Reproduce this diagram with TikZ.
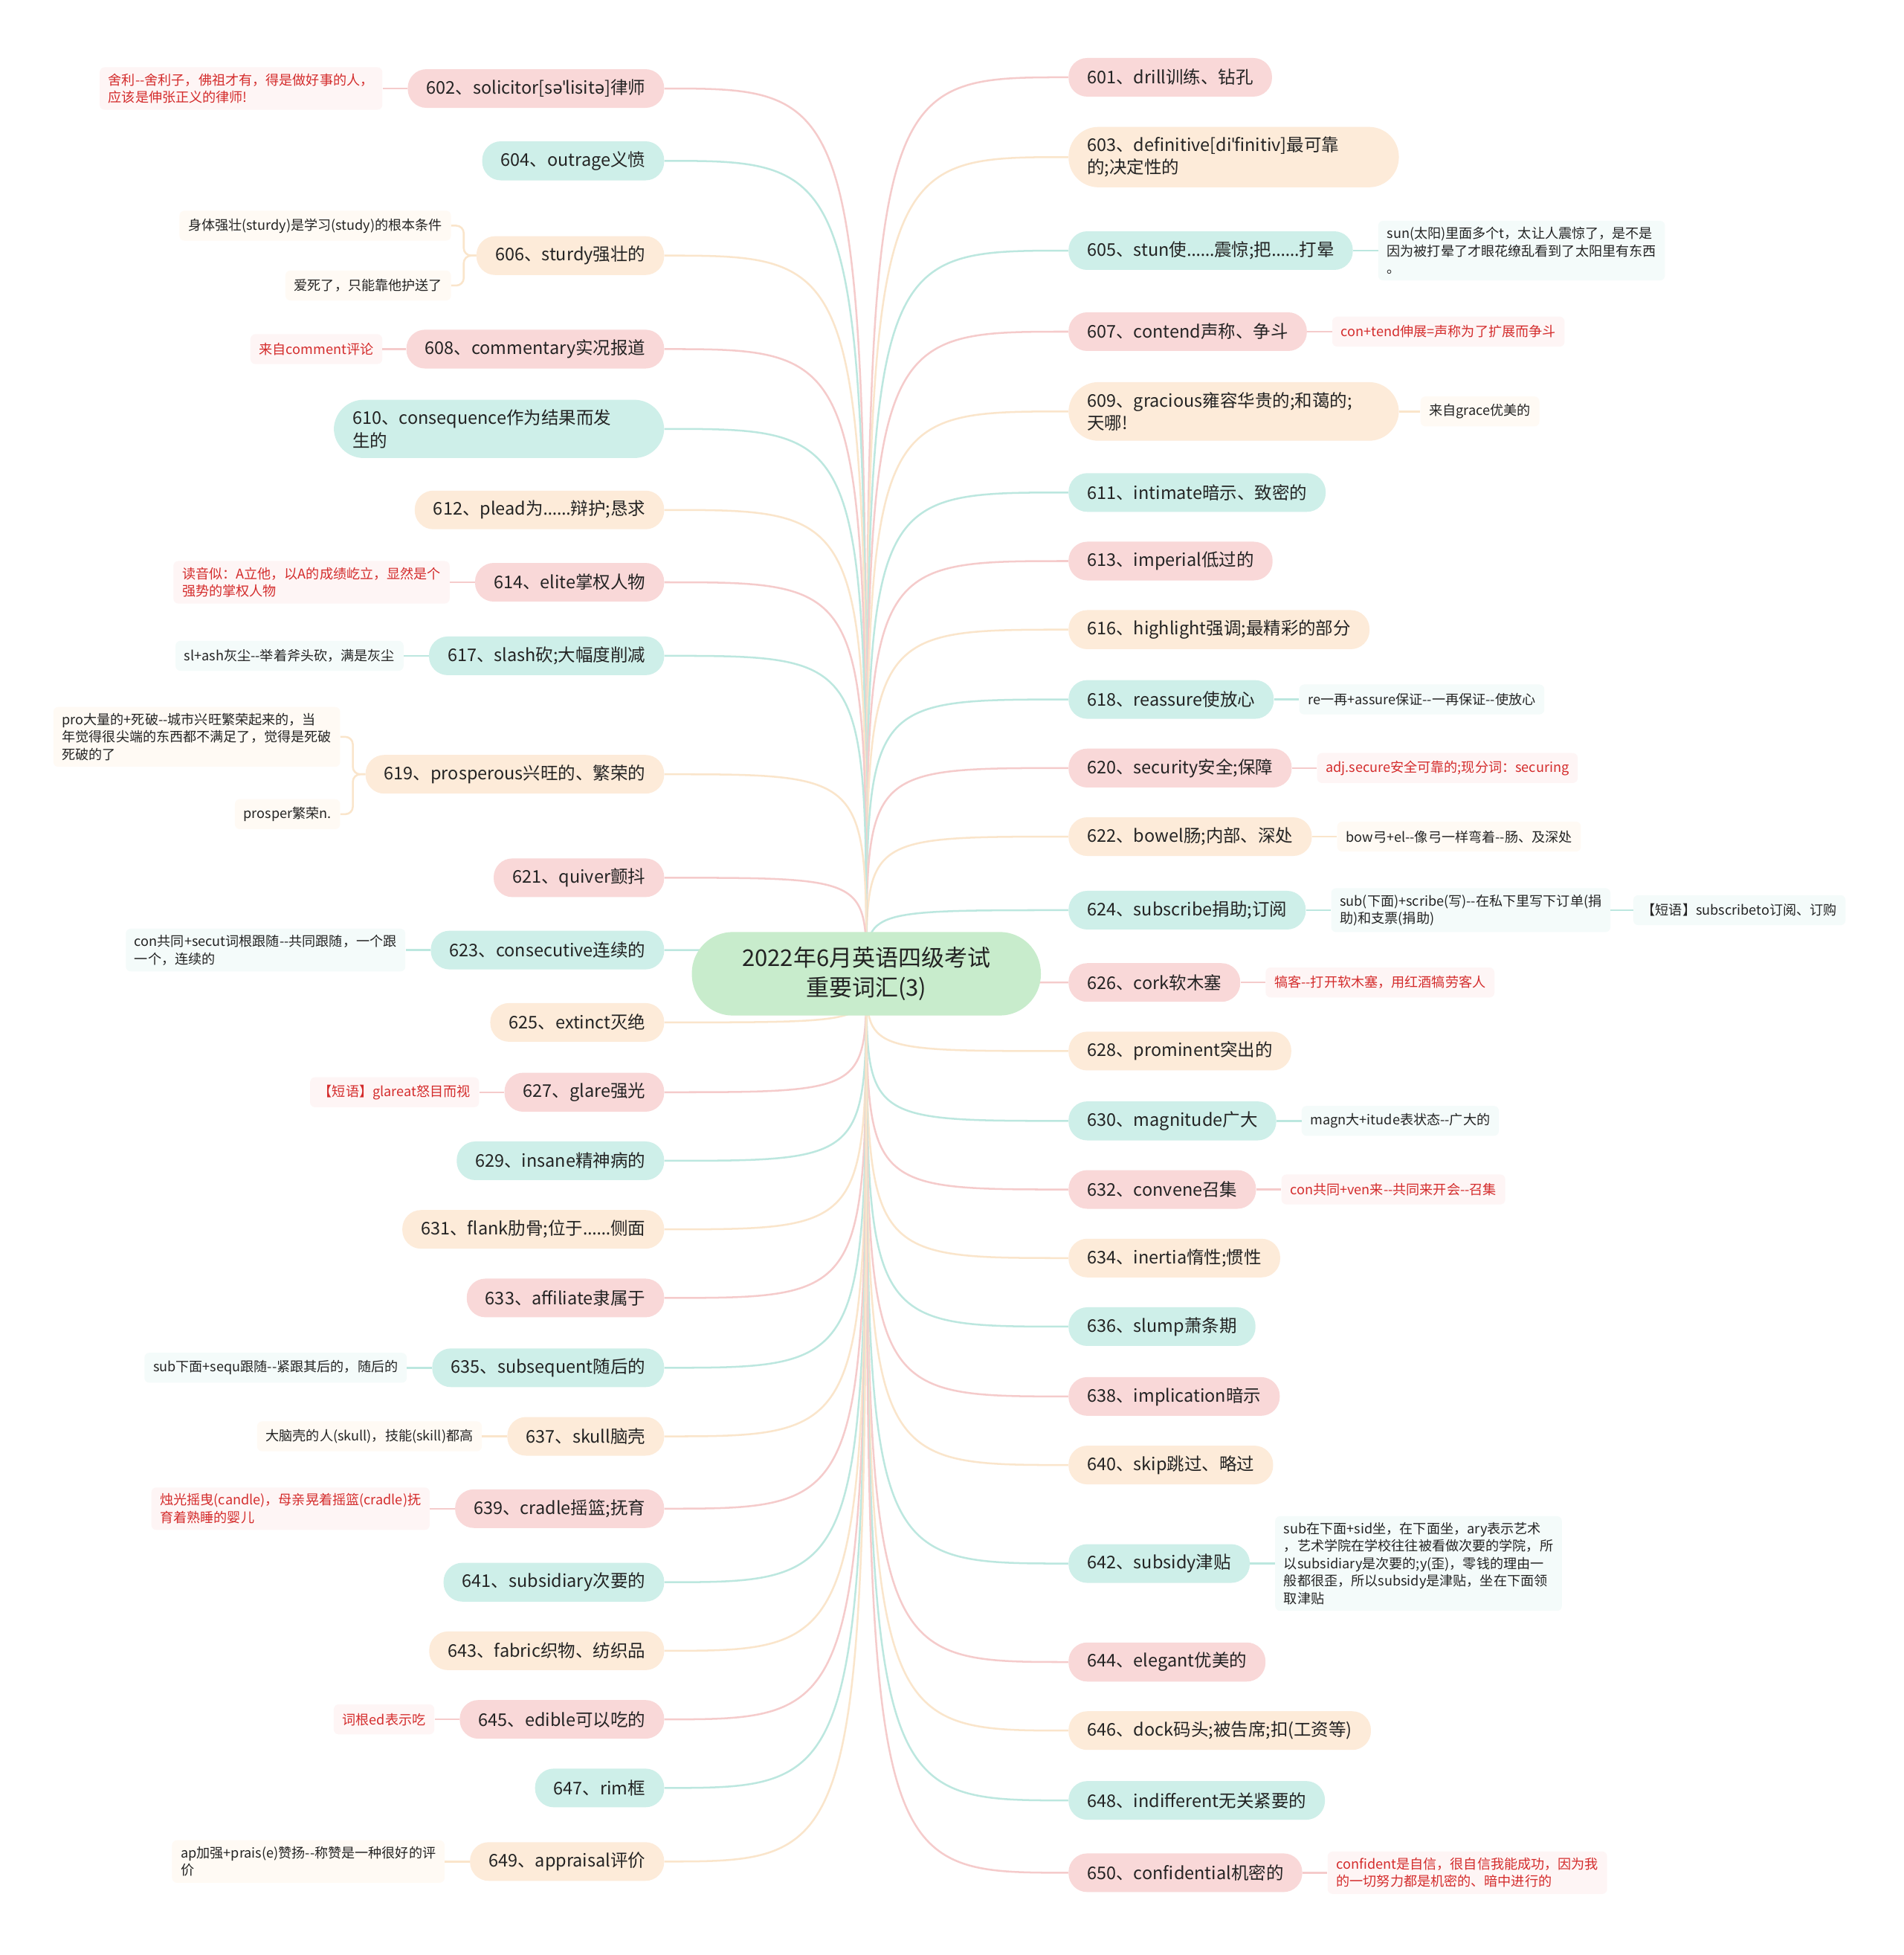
\documentclass[tikz,border=0pt]{standalone}
\usepackage{fontspec}
\setmainfont{Noto Sans CJK SC}
\newfontfamily\ipafont{Noto Sans}
\newcommand{\ipa}[1]{{\ipafont #1}}
\newcommand{\elide}{{\ipafont ……}}
\usetikzlibrary{positioning, backgrounds}

\definecolor{pinkfill}{RGB}{249,216,216}
\definecolor{tealfill}{RGB}{206,239,233}
\definecolor{peachfill}{RGB}{253,235,217}
\definecolor{rootfill}{RGB}{200,236,204}
\definecolor{pinkline}{RGB}{245,203,203}
\definecolor{tealline}{RGB}{188,231,223}
\definecolor{peachline}{RGB}{250,229,203}
\definecolor{pinknotebg}{RGB}{254,245,245}
\definecolor{tealnotebg}{RGB}{244,251,250}
\definecolor{peachnotebg}{RGB}{255,250,244}
\definecolor{redtext}{RGB}{212,44,44}
\definecolor{darktext}{RGB}{35,35,35}

\begin{document}
\begin{tikzpicture}[
  x=1pt, y=-1pt,
  node distance=20pt,
  % Node styles
  rootbox/.style={fill=rootfill, rounded corners=33pt, minimum width=280pt, minimum height=67pt, align=center, font=\fontsize{18.5}{24}\selectfont, text=darktext},
  word/.style={rounded corners=15pt, inner xsep=15pt, inner ysep=8pt, minimum height=31pt, align=left, font=\fontsize{14}{18}\selectfont, text=darktext},
  pinkword/.style={word, fill=pinkfill},
  tealword/.style={word, fill=tealfill},
  peachword/.style={word, fill=peachfill},
  longword/.style={rounded corners=24pt, text width=235pt},
  note/.style={rounded corners=4pt, inner xsep=7pt, inner ysep=5pt, minimum height=24pt, align=left, font=\fontsize{10.8}{14}\selectfont},
  pinknote/.style={note, fill=pinknotebg, text=redtext},
  tealnote/.style={note, fill=tealnotebg, text=darktext},
  peachnote/.style={note, fill=peachnotebg, text=darktext},
  % Line styles
  branch/.style={line width=1.5pt}
]

  \useasboundingbox (0,0) rectangle (1527,1568);

  % Root
  \node[rootbox] (root) at (695,781) {2022年6月英语四级考试\\重要词汇(3)};

  % ==========================================
  % RIGHT BRANCHES
  % ==========================================
  \node[pinkword, anchor=west] (n601) at (857,62) {601、drill训练、钻孔};
  \node[peachword, longword, anchor=west] (n603) at (857,126) {603、definitive[di\ipa{ˈ}finitiv]最可靠\\的;决定性的};
  \node[tealword, anchor=west] (n605) at (857,201) {605、stun使\elide 震惊;把\elide 打晕};
  \node[pinkword, anchor=west] (n607) at (857,266) {607、contend声称、争斗};
  \node[peachword, longword, anchor=west] (n609) at (857,330) {609、gracious雍容华贵的;和蔼的;\\天哪!};
  \node[tealword, anchor=west] (n611) at (857,395) {611、intimate暗示、致密的};
  \node[pinkword, anchor=west] (n613) at (857,450) {613、imperial低过的};
  \node[peachword, anchor=west] (n616) at (857,505) {616、highlight强调;最精彩的部分};
  \node[tealword, anchor=west] (n618) at (857,561) {618、reassure使放心};
  \node[pinkword, anchor=west] (n620) at (857,616) {620、security安全;保障};
  \node[peachword, anchor=west] (n622) at (857,671) {622、bowel肠;内部、深处};
  \node[tealword, anchor=west] (n624) at (857,730) {624、subscribe捐助;订阅};
  \node[pinkword, anchor=west] (n626) at (857,788) {626、cork软木塞};
  \node[peachword, anchor=west] (n628) at (857,843) {628、prominent突出的};
  \node[tealword, anchor=west] (n630) at (857,899) {630、magnitude广大};
  \node[pinkword, anchor=west] (n632) at (857,954) {632、convene召集};
  \node[peachword, anchor=west] (n634) at (857,1009) {634、inertia惰性;惯性};
  \node[tealword, anchor=west] (n636) at (857,1064) {636、slump萧条期};
  \node[pinkword, anchor=west] (n638) at (857,1120) {638、implication暗示};
  \node[peachword, anchor=west] (n640) at (857,1175) {640、skip跳过、略过};
  \node[tealword, anchor=west] (n642) at (857,1254) {642、subsidy津贴};
  \node[pinkword, anchor=west] (n644) at (857,1333) {644、elegant优美的};
  \node[peachword, anchor=west] (n646) at (857,1388) {646、dock码头;被告席;扣(工资等)};
  \node[tealword, anchor=west] (n648) at (857,1444) {648、indifferent无关紧要的};
  \node[pinkword, anchor=west] (n650) at (857,1502) {650、confidential机密的};

  % Notes on the right
  \node[tealnote, right=of n605] (n605a) {sun(太阳)里面多个t，太让人震惊了，是不是\\因为被打晕了才眼花缭乱看到了太阳里有东西\\。};
  \node[pinknote, right=of n607] (n607a) {con+tend伸展=声称为了扩展而争斗};
  \node[peachnote, right=17pt of n609] (n609a) {来自grace优美的};
  \node[tealnote, right=of n618] (n618a) {re一再+assure保证-{}-一再保证-{}-使放心};
  \node[pinknote, right=of n620] (n620a) {adj.secure安全可靠的;现分词：securing};
  \node[peachnote, right=of n622] (n622a) {bow弓+el-{}-像弓一样弯着-{}-肠、及深处};
  \node[tealnote, right=of n624] (n624a) {sub(下面)+scribe(写)-{}-在私下里写下订单(捐\\助)和支票(捐助)};
  \node[tealnote, right=18pt of n624a] (n624b) {【短语】subscribeto订阅、订购};
  \node[pinknote, right=of n626] (n626a) {犒客-{}-打开软木塞，用红酒犒劳客人};
  \node[tealnote, right=of n630] (n630a) {magn大+itude表状态-{}-广大的};
  \node[pinknote, right=of n632] (n632a) {con共同+ven来-{}-共同来开会-{}-召集};
  \node[tealnote, right=of n642] (n642a) {sub在下面+sid坐，在下面坐，ary表示艺术\\，艺术学院在学校往往被看做次要的学院，所\\以subsidiary是次要的;y(歪)，零钱的理由一\\般都很歪，所以subsidy是津贴，坐在下面领\\取津贴};
  \node[pinknote, right=of n650] (n650a) {confident是自信，很自信我能成功，因为我\\的一切努力都是机密的、暗中进行的};

  % ==========================================
  % LEFT BRANCHES
  % ==========================================
  \node[pinkword, anchor=east] (n602) at (533,71) {602、solicitor[s\ipa{əˈ}lisit\ipa{ə}]律师};
  \node[tealword, anchor=east] (n604) at (533,129) {604、outrage义愤};
  \node[peachword, anchor=east] (n606) at (533,205) {606、sturdy强壮的};
  \node[pinkword, anchor=east] (n608) at (533,280) {608、commentary实况报道};
  \node[tealword, longword, anchor=east] (n610) at (533,344) {610、consequence作为结果而发\\生的};
  \node[peachword, anchor=east] (n612) at (533,409) {612、plead为\elide 辩护;恳求};
  \node[pinkword, anchor=east] (n614) at (533,467) {614、elite掌权人物};
  \node[tealword, anchor=east] (n617) at (533,526) {617、slash砍;大幅度削减};
  \node[peachword, anchor=east] (n619) at (533,621) {619、prosperous兴旺的、繁荣的};
  \node[pinkword, anchor=east] (n621) at (533,704) {621、quiver颤抖};
  \node[tealword, anchor=east] (n623) at (533,762) {623、consecutive连续的};
  \node[peachword, anchor=east] (n625) at (533,820) {625、extinct灭绝};
  \node[pinkword, anchor=east] (n627) at (533,876) {627、glare强光};
  \node[tealword, anchor=east] (n629) at (533,931) {629、insane精神病的};
  \node[peachword, anchor=east] (n631) at (533,986) {631、flank肋骨;位于\elide 侧面};
  \node[pinkword, anchor=east] (n633) at (533,1041) {633、affiliate隶属于};
  \node[tealword, anchor=east] (n635) at (533,1097) {635、subsequent随后的};
  \node[peachword, anchor=east] (n637) at (533,1152) {637、skull脑壳};
  \node[pinkword, anchor=east] (n639) at (533,1210) {639、cradle摇篮;抚育};
  \node[tealword, anchor=east] (n641) at (533,1269) {641、subsidiary次要的};
  \node[peachword, anchor=east] (n643) at (533,1324) {643、fabric织物、纺织品};
  \node[pinkword, anchor=east] (n645) at (533,1379) {645、edible可以吃的};
  \node[tealword, anchor=east] (n647) at (533,1434) {647、rim框};
  \node[peachword, anchor=east] (n649) at (533,1493) {649、appraisal评价};

  % Notes on the left
  \node[pinknote, left=of n602] (n602a) {舍利-{}-舍利子，佛祖才有，得是做好事的人，\\应该是伸张正义的律师!};
  \node[peachnote, left=of n606, yshift=24pt] (n606a) {身体强壮(sturdy)是学习(study)的根本条件};
  \node[peachnote, left=of n606, yshift=-24pt] (n606b) {爱死了，只能靠他护送了};
  \node[pinknote, left=19pt of n608] (n608a) {来自comment评论};
  \node[pinknote, left=of n614] (n614a) {读音似：A立他，以A的成绩屹立，显然是个\\强势的掌权人物};
  \node[tealnote, left=of n617] (n617a) {sl+ash灰尘-{}-举着斧头砍，满是灰尘};
  \node[peachnote, left=of n619, yshift=30pt] (n619a) {pro大量的+死破-{}-城市兴旺繁荣起来的，当\\年觉得很尖端的东西都不满足了，觉得是死破\\死破的了};
  \node[peachnote, left=of n619, yshift=-32pt] (n619b) {prosper繁荣n.};
  \node[tealnote, left=of n623] (n623a) {con共同+secut词根跟随-{}-共同跟随，一个跟\\一个，连续的};
  \node[pinknote, left=of n627] (n627a) {【短语】glareat怒目而视};
  \node[tealnote, left=of n635] (n635a) {sub下面+sequ跟随-{}-紧跟其后的，随后的};
  \node[peachnote, left=of n637] (n637a) {大脑壳的人(skull)，技能(skill)都高};
  \node[pinknote, left=of n639] (n639a) {烛光摇曳(candle)，母亲晃着摇篮(cradle)抚\\育着熟睡的婴儿};
  \node[pinknote, left=of n645] (n645a) {词根ed表示吃};
  \node[peachnote, left=of n649] (n649a) {ap加强+prais(e)赞扬-{}-称赞是一种很好的评\\价};

  % ==========================================
  % CONNECTORS
  % ==========================================
  \begin{scope}[on background layer]
    \fill[white] (0,0) rectangle (1527,1568);

    % Root to right words
    \foreach \n/\c in {601/pinkline, 603/peachline, 605/tealline, 607/pinkline, 609/peachline,
        611/tealline, 613/pinkline, 616/peachline, 618/tealline, 620/pinkline, 622/peachline,
        624/tealline, 626/pinkline, 628/peachline, 630/tealline, 632/pinkline, 634/peachline,
        636/tealline, 638/pinkline, 640/peachline, 642/tealline, 644/pinkline, 646/peachline,
        648/tealline, 650/pinkline}
      \draw[branch, draw=\c] (root.center) .. controls (root.center |- n\n.west) .. (n\n.west);

    % Root to left words
    \foreach \n/\c in {602/pinkline, 604/tealline, 606/peachline, 608/pinkline, 610/tealline,
        612/peachline, 614/pinkline, 617/tealline, 619/peachline, 621/pinkline, 623/tealline,
        625/peachline, 627/pinkline, 629/tealline, 631/peachline, 633/pinkline, 635/tealline,
        637/peachline, 639/pinkline, 641/tealline, 643/peachline, 645/pinkline, 647/tealline,
        649/peachline}
      \draw[branch, draw=\c] (root.center) .. controls (root.center |- n\n.east) .. (n\n.east);
  \end{scope}

  % Words to notes
  \draw[branch, draw=tealline] (n605) -- (n605a);
  \draw[branch, draw=pinkline] (n607) -- (n607a);
  \draw[branch, draw=peachline] (n609) -- (n609a);
  \draw[branch, draw=tealline] (n618) -- (n618a);
  \draw[branch, draw=pinkline] (n620) -- (n620a);
  \draw[branch, draw=peachline] (n622) -- (n622a);
  \draw[branch, draw=tealline] (n624) -- (n624a);
  \draw[branch, draw=tealline] (n624a) -- (n624b);
  \draw[branch, draw=pinkline] (n626) -- (n626a);
  \draw[branch, draw=tealline] (n630) -- (n630a);
  \draw[branch, draw=pinkline] (n632) -- (n632a);
  \draw[branch, draw=tealline] (n642) -- (n642a);
  \draw[branch, draw=pinkline] (n650) -- (n650a);

  \draw[branch, draw=pinkline] (n602) -- (n602a);
  \draw[branch, draw=pinkline] (n608) -- (n608a);
  \draw[branch, draw=pinkline] (n614) -- (n614a);
  \draw[branch, draw=tealline] (n617) -- (n617a);
  \draw[branch, draw=tealline] (n623) -- (n623a);
  \draw[branch, draw=pinkline] (n627) -- (n627a);
  \draw[branch, draw=tealline] (n635) -- (n635a);
  \draw[branch, draw=peachline] (n637) -- (n637a);
  \draw[branch, draw=pinkline] (n639) -- (n639a);
  \draw[branch, draw=pinkline] (n645) -- (n645a);
  \draw[branch, draw=peachline] (n649) -- (n649a);

  % Brackets for two notes
  \draw[branch, draw=peachline, rounded corners=6pt] (n606.west) -- ++(-10,0) |- (n606a.east);
  \draw[branch, draw=peachline, rounded corners=6pt] (n606.west) -- ++(-10,0) |- (n606b.east);
  \draw[branch, draw=peachline, rounded corners=6pt] (n619.west) -- ++(-10,0) |- (n619a.east);
  \draw[branch, draw=peachline, rounded corners=6pt] (n619.west) -- ++(-10,0) |- (n619b.east);

\end{tikzpicture}
\end{document}
